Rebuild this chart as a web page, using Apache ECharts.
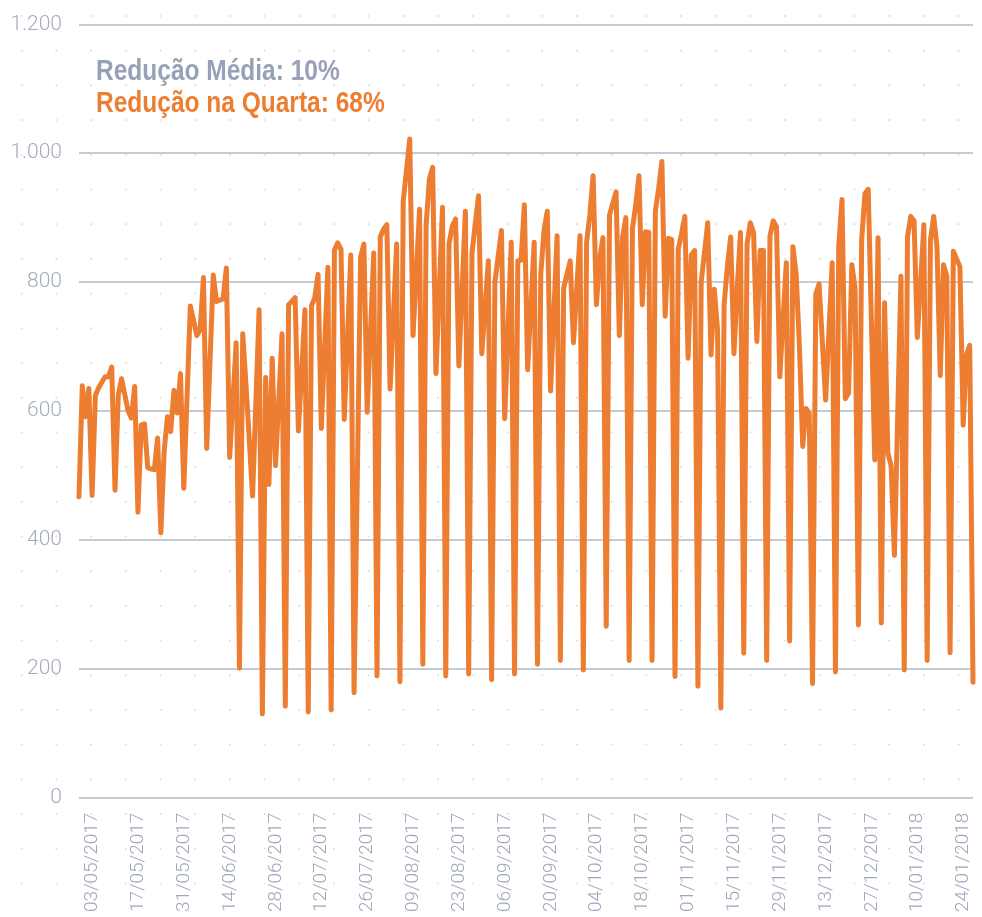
<!DOCTYPE html>
<html>
<head>
<meta charset="utf-8">
<script src="https://cdn.jsdelivr.net/npm/echarts@6/dist/echarts.min.js"></script>
<style>
  html, body { margin: 0; padding: 0; background: #ffffff; }
  #chart { width: 982px; height: 917px; }
</style>
</head>
<body>
<div id="chart"></div>
<script>
// Daily counts, 26/04/2017 .. 24/01/2018, one array per month
const apr2017 = [467, 639, 591, 635, 469];
const may2017 = [624, 636, 645, 653, 653, 668, 477, 625, 650, 625, 600, 589, 638, 443, 578, 580,
                 512, 510, 509, 558, 411, 537, 591, 568, 632, 597, 658, 480, 622, 763, 740];
const jun2017 = [717, 726, 807, 542, 676, 811, 770, 772, 774, 822, 528, 617, 706, 201, 720,
                 640, 555, 468, 612, 757, 130, 652, 486, 682, 515, 617, 720, 142, 765, 770];
const jul2017 = [776, 569, 663, 757, 133, 763, 776, 812, 573, 698, 823, 136, 849, 861, 851, 587,
                 715, 842, 163, 500, 839, 859, 598, 722, 845, 189, 870, 882, 889, 634, 746];
const aug2017 = [859, 180, 925, 973, 1022, 717, 815, 913, 207, 889, 960, 978, 658, 787, 916, 189,
                 860, 887, 898, 670, 790, 910, 192, 845, 890, 934, 689, 761, 833, 183, 800];
const sep2017 = [840, 880, 588, 725, 862, 192, 833, 834, 920, 664, 763, 862, 207, 812, 880,
                 910, 631, 752, 872, 213, 791, 812, 833, 706, 790, 872, 198, 862, 904, 965];
const oct2017 = [765, 836, 869, 266, 904, 922, 940, 717, 870, 900, 213, 883, 919, 965, 765, 878,
                 877, 213, 910, 945, 987, 747, 868, 866, 188, 851, 875, 902, 682, 842, 849];
const nov2017 = [173, 800, 846, 892, 687, 789, 725, 139, 765, 825, 870, 689, 790, 877, 224,
                 859, 892, 877, 708, 849, 849, 213, 871, 895, 886, 653, 742, 830, 243, 855];
const dec2017 = [812, 700, 545, 604, 596, 177, 782, 797, 707, 617, 723, 830, 195, 856, 928, 619,
                 628, 827, 790, 268, 865, 937, 944, 734, 524, 869, 271, 768, 535, 515, 376];
const jan2018 = [592, 809, 198, 870, 902, 895, 714, 800, 889, 213, 865, 902, 855, 655, 827, 809,
                 225, 848, 836, 824, 578, 687, 702, 179];

// Dates shown under the axis (every second Wednesday)
const labelDates = ['03/05/2017', '17/05/2017', '31/05/2017', '14/06/2017', '28/06/2017',
  '12/07/2017', '26/07/2017', '09/08/2017', '23/08/2017', '06/09/2017', '20/09/2017',
  '04/10/2017', '18/10/2017', '01/11/2017', '15/11/2017', '29/11/2017', '13/12/2017',
  '27/12/2017', '10/01/2018', '24/01/2018'];

const titleLines = ['Redução Média: 10%', 'Redução na Quarta: 68%'];

const values = [].concat(apr2017, may2017, jun2017, jul2017, aug2017, sep2017,
                         oct2017, nov2017, dec2017, jan2018);

function pad(n) { return n < 10 ? '0' + n : '' + n; }
const days = values.map(function (_, i) {
  const d = new Date(Date.UTC(2017, 3, 26 + i));
  return pad(d.getUTCDate()) + '/' + pad(d.getUTCMonth() + 1) + '/' + d.getUTCFullYear();
});

// faint dotted backdrop
const W = 982, H = 917;
const bg = document.createElement('canvas');
bg.width = W; bg.height = H;
(function () {
  const ctx = bg.getContext('2d');
  ctx.fillStyle = '#ffffff';
  ctx.fillRect(0, 0, W, H);
  ctx.fillStyle = '#dde0e6';
  const step = 34.7;
  for (let y = 16; y < H; y += step) {
    for (let x = 21.7; x < W; x += step) {
      ctx.beginPath();
      ctx.arc(x, y, 1.1, 0, Math.PI * 2);
      ctx.fill();
    }
  }
})();

function thousands(v) {
  return String(v).replace(/\B(?=(\d{3})+(?!\d))/g, '.');
}

const labelFont = 'Roboto';
const titleFont = 'bold 29px "Liberation Sans", Arial, sans-serif';

// condensed headline: regular bold face squeezed horizontally
function headline(text, y, color) {
  return {
    type: 'text',
    x: 96,
    y: y,
    scaleX: 0.845,
    scaleY: 1,
    silent: true,
    style: {
      text: text,
      x: 0,
      y: 0,
      font: titleFont,
      fill: color,
      align: 'left',
      verticalAlign: 'middle',
      textAlign: 'left',
      textVerticalAlign: 'middle'
    }
  };
}

const chart = echarts.init(document.getElementById('chart'), null, { renderer: 'canvas' });
chart.setOption({
  animation: false,
  backgroundColor: { image: bg, repeat: 'no-repeat' },
  graphic: [
    headline(titleLines[0], 71.5, '#97a1b7'),
    headline(titleLines[1], 103.8, '#ed7d31')
  ],
  grid: { left: 79, right: 9, top: 24.3, bottom: 119.3, containLabel: false },
  xAxis: {
    type: 'category',
    data: days,
    boundaryGap: false,
    axisLine: { show: false },
    axisTick: { show: false },
    splitLine: { show: false },
    axisLabel: {
      interval: function (idx, val) { return labelDates.indexOf(val) >= 0; },
      rotate: 90,
      margin: 15,
      verticalAlign: 'bottom',
      lineHeight: 19,
      fontFamily: labelFont,
      fontWeight: 300,
      fontSize: 19,
      color: '#9ea7ba'
    }
  },
  yAxis: {
    type: 'value',
    min: 0, max: 1200, interval: 200,
    axisLine: { show: false },
    axisTick: { show: false },
    splitLine: { show: true, lineStyle: { color: '#b0b8c9', width: 1.5 } },
    axisLabel: {
      margin: 17,
      fontFamily: labelFont,
      fontWeight: 300,
      fontSize: 21,
      color: '#a3abbd',
      formatter: thousands
    }
  },
  series: [{
    type: 'line',
    data: values,
    showSymbol: false,
    symbol: 'none',
    smooth: false,
    lineStyle: { color: '#ed7d31', width: 5, join: 'round', cap: 'round' },
    itemStyle: { color: '#ed7d31' }
  }]
});
</script>
</body>
</html>
